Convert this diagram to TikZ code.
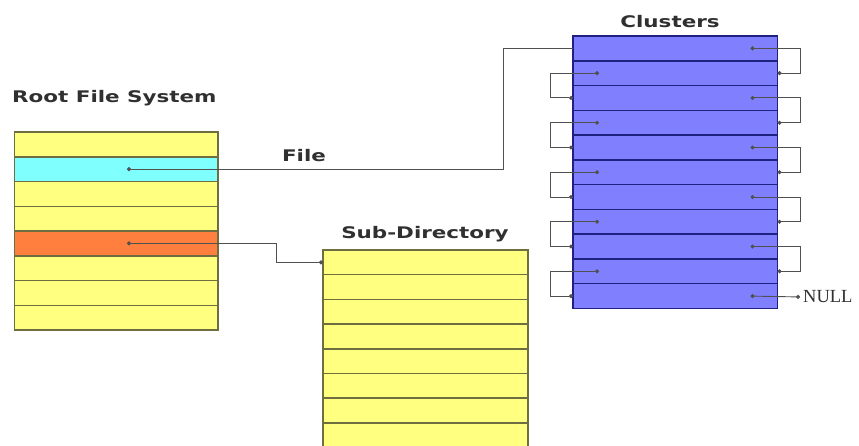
\documentclass[tikz,border=0pt]{standalone}
\usepackage{fontspec}
\setmainfont{DejaVu Sans}
\newfontfamily\labfont[FakeStretch=1.34]{DejaVu Sans Bold}
\newfontfamily\serifnull{Liberation Serif}
\usetikzlibrary{arrows.meta}
\definecolor{yel}{HTML}{FFFF80}
\definecolor{cyn}{HTML}{80FFFF}
\definecolor{org}{HTML}{FF7F3F}
\definecolor{blu}{HTML}{8080FF}
\definecolor{yline}{HTML}{6E6E40}
\definecolor{nline}{HTML}{202080}
\definecolor{conn}{HTML}{505050}
\definecolor{txt}{HTML}{303030}
\begin{document}
\begin{tikzpicture}[x=1pt,y=-1pt,
  rootrow/.style={draw=yline, line width=1.5pt, minimum width=203.5pt, minimum height=24.75pt, inner sep=0pt, outer sep=0pt, anchor=north west},
  subrow/.style={draw=yline, line width=1.5pt, fill=yel, minimum width=205pt, minimum height=24.7pt, inner sep=0pt, outer sep=0pt, anchor=north west},
  clrow/.style={draw=nline, line width=1.5pt, fill=blu, minimum width=204.5pt, minimum height=24.77pt, inner sep=0pt, outer sep=0pt, anchor=north west},
  lab/.style={inner sep=0pt, text=txt, font=\labfont\fontsize{16}{18}\selectfont},
  nulltext/.style={inner sep=0pt, text=txt, font=\serifnull\fontsize{18.5}{20}\selectfont},
  ptr/.style={draw=conn, line width=0.9pt, {Circle[length=4pt]}-{Circle[length=4pt]}},
  ptrstart/.style={draw=conn, line width=0.9pt, {Circle[length=4pt]}-}
]
\fill[white] (0,0) rectangle (859,445);
\clip (0,0) rectangle (859,445);

% Root file system
\foreach \i/\c in {1/yel,2/cyn,3/yel,4/yel,5/org,6/yel,7/yel,8/yel}
  \node[rootrow, fill=\c] (r\i) at (14.5,{132+(\i-1)*24.75}) {};

% Sub-directory
\foreach \i in {1,...,8}
  \node[subrow] (s\i) at (323,{250+(\i-1)*24.7}) {};

% Clusters
\foreach \i in {1,...,11}
  \node[clrow] (c\i) at (573,{36+(\i-1)*24.77}) {};

% Labels
\node[lab, anchor=base west] (lroot) at (12,102) {Root File System};
\node[lab, anchor=base] (lclus) at (670,27) {Clusters};
\node[lab, anchor=base] (lsub) at (425,238) {Sub-Directory};
\node[lab, anchor=base] (lfile) at (304,161) {File};
\node[nulltext, anchor=west] (nul) at (803,297) {NULL};

% pointer sources and bend coordinates
\coordinate (pf) at ([xshift=-91pt]r2.east);
\coordinate (ps) at ([xshift=-91pt]r5.east);
\coordinate (fb) at (503,100);
\coordinate (sb) at (276,250);

% File pointer
\draw[ptrstart] (pf) -- (pf -| fb) |- (c1.west);
% Sub-directory pointer
\draw[ptr] (ps) -- (ps -| sb) |- (s1.west);

% Cluster chain
\foreach \i in {1,3,5,7,9} {
  \pgfmathtruncatemacro\j{\i+1}
  \draw[ptr] ([xshift=-27pt]c\i.east) -- ++(50,0) |- (c\j.east);
}
\foreach \i in {2,4,6,8,10} {
  \pgfmathtruncatemacro\j{\i+1}
  \draw[ptr] ([xshift=26pt]c\i.west) -- ++(-49,0) |- (c\j.west);
}
\draw[ptr, shorten >=3pt] ([xshift=-27pt]c11.east) -- (nul.west);
\end{tikzpicture}
\end{document}
